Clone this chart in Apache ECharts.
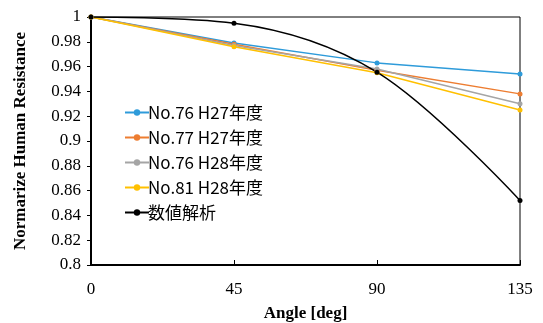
<!DOCTYPE html>
<html>
<head>
<meta charset="utf-8">
<script src="https://cdn.jsdelivr.net/npm/echarts@6/dist/echarts.min.js"></script>
<style>
  html, body { margin: 0; padding: 0; background: #fff; }
  #main { width: 543px; height: 323px; }
</style>
</head>
<body>
<div id="main"></div>
<script>
// angles on the x axis
const angles = [0, 45, 90, 135];
// normalized resistance per series
const no76H27 = [1, 0.979, 0.963, 0.954];
const no77H27 = [1, 0.978, 0.957, 0.938];
const no76H28 = [1, 0.977, 0.958, 0.930];
const no81H28 = [1, 0.976, 0.955, 0.925];
const analysis = [1, 0.995, 0.9555, 0.852];
const names = ["No.76 H27年度", "No.77 H27年度", "No.76 H28年度", "No.81 H28年度", "数値解析"];
const colors = ["#2E9BDA", "#ED7D31", "#A5A5A5", "#FFC000", "#000000"];

let chart = echarts.init(document.getElementById("main"));

let mk = (name, data, color, smooth) => ({
  name: name,
  type: "line",
  data: angles.map((a, i) => [a, data[i]]),
  smooth: smooth,
  symbol: "circle",
  symbolSize: 5,
  color: color,
  lineStyle: { width: 1.5, color: color },
  itemStyle: { color: color },
});

let option = {
  animation: false,
  grid: { left: 91, right: 23, top: 17, bottom: 58, outerBoundsMode: "none",
    show: true, borderColor: "#000", borderWidth: 1 },
  legend: {
    orient: "vertical",
    left: 119,
    top: 99,
    itemGap: 8,
    itemWidth: 24,
    itemHeight: 8,
    data: names,
    textStyle: { fontFamily: "Noto Sans CJK JP", fontSize: 17, color: "#000", padding: [0, 0, 0, -6] },
  },
  xAxis: {
    type: "value",
    min: 0,
    max: 135,
    interval: 45,
    name: "Angle [deg]",
    nameLocation: "middle",
    nameGap: 40,
    nameTextStyle: { fontFamily: "Liberation Serif", fontWeight: "bold", fontSize: 17, color: "#000" },
    axisLine: { lineStyle: { color: "#000", width: 2 } },
    axisTick: { inside: true, length: 5, lineStyle: { color: "#000" } },
    axisLabel: { fontFamily: "Liberation Serif", fontSize: 17, color: "#000", margin: 16 },
    splitLine: { show: false },
  },
  yAxis: {
    type: "value",
    min: 0.8,
    max: 1,
    interval: 0.02,
    name: "Normarize Human Resistance",
    nameLocation: "middle",
    nameGap: 62,
    nameTextStyle: { fontFamily: "Liberation Serif", fontWeight: "bold", fontSize: 17, color: "#000" },
    axisLine: { show: true, lineStyle: { color: "#000", width: 2 } },
    axisTick: { show: true, length: 4, lineStyle: { color: "#000" } },
    axisLabel: { fontFamily: "Liberation Serif", fontSize: 17, color: "#000", margin: 10,
      formatter: (v) => String(+v.toFixed(2)) },
    splitLine: { show: false },
  },
  series: [
    mk(names[0], no76H27, colors[0], false),
    mk(names[1], no77H27, colors[1], false),
    mk(names[2], no76H28, colors[2], false),
    mk(names[3], no81H28, colors[3], false),
    mk(names[4], analysis, colors[4], 0.35),
  ],
};
chart.setOption(option);
</script>
</body>
</html>
